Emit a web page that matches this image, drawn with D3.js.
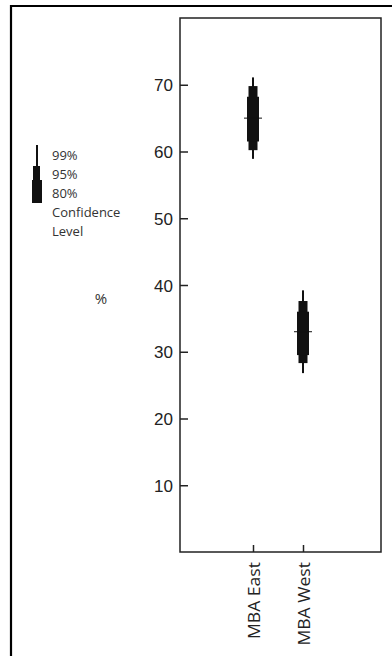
<!DOCTYPE html>
<html>
<head>
<meta charset="utf-8">
<script src="https://cdn.jsdelivr.net/npm/d3@7"></script>
<style>
  html, body { margin: 0; padding: 0; background: #fff; }
  svg { display: block; font-family: "Open Sans", sans-serif; }
</style>
</head>
<body>
<div id="chart"></div>
<script>
// Categories and confidence bands
const categories = ['MBA East', 'MBA West']
const medians = [65, 33]
const ci99 = [[58.9, 71.1], [26.8, 39.2]]
const ci95 = [[60.2, 69.8], [28.3, 37.6]]
const ci80 = [[61.5, 68.2], [29.5, 36.0]]
const y_ticks = [10, 20, 30, 40, 50, 60, 70]
const legend_labels = ['99%', '95%', '80%', 'Confidence', 'Level']

const W = 392, H = 656
const plot = { left: 180, right: 381, top: 18, bottom: 552 }

let svg = d3.select('#chart')
  .append('svg')
  .attr('width', W)
  .attr('height', H)

// Outer frame (only top and left edges show)
svg.append('path')
  .attr('d', `M11,${H} L11,6 L${W},6`)
  .attr('fill', 'none')
  .attr('stroke', '#000')
  .attr('stroke-width', 2.2)

// Scales
let y = d3.scaleLinear()
  .domain([0, 80])
  .range([plot.bottom, plot.top])

let x = d3.scalePoint()
  .domain(categories)
  .range([253, 303])

// Plot box
svg.append('rect')
  .attr('x', plot.left)
  .attr('y', plot.top)
  .attr('width', plot.right - plot.left)
  .attr('height', plot.bottom - plot.top)
  .attr('fill', 'none')
  .attr('stroke', '#222')
  .attr('stroke-width', 1.5)

// Y axis, ticks pointing inward
let y_axis = svg.append('g')
  .attr('transform', `translate(${plot.left},0)`)
  .call(d3.axisRight(y).tickValues(y_ticks).tickSize(8).tickFormat(d => d))
y_axis.select('.domain').remove()
y_axis.selectAll('line').attr('stroke', '#222').attr('stroke-width', 1.5)
y_axis.selectAll('text')
  .attr('x', -7)
  .attr('text-anchor', 'end')
  .attr('dy', '0.36em')
  .attr('fill', '#222')
  .style('font-size', '17px')

// X axis, ticks pointing up
let x_axis = svg.append('g')
  .attr('transform', `translate(0,${plot.bottom})`)
  .call(d3.axisTop(x).tickSize(7).tickFormat(''))
x_axis.select('.domain').remove()
x_axis.selectAll('line').attr('stroke', '#222').attr('stroke-width', 1.5)

// Rotated category labels (a little stretched along the text like the reference)
svg.selectAll('.cat-label')
  .data(categories)
  .enter()
  .append('text')
    .attr('class', 'cat-label')
    .attr('transform', d => `translate(${x(d) + 7},${plot.bottom + 10}) rotate(-90) scale(1.1,1)`)
    .attr('text-anchor', 'end')
    .attr('fill', '#222')
    .style('font-size', '16px')
    .text(d => d)

// Y label
svg.append('text')
  .attr('x', 101)
  .attr('y', 304)
  .attr('text-anchor', 'middle')
  .attr('fill', '#333')
  .style('font-size', '15px')
  .text('%')

// Confidence bands
let bands = [
  { data: ci99, width: 2 },
  { data: ci95, width: 9 },
  { data: ci80, width: 12 }
]
for (let band of bands) {
  svg.selectAll(null)
    .data(categories)
    .enter()
    .append('rect')
      .attr('x', d => x(d) - band.width / 2)
      .attr('y', (d, i) => y(band.data[i][1]))
      .attr('width', band.width)
      .attr('height', (d, i) => y(band.data[i][0]) - y(band.data[i][1]))
      .attr('fill', '#111')
}

// Median ticks
svg.selectAll('.median')
  .data(categories)
  .enter()
  .append('line')
    .attr('class', 'median')
    .attr('x1', d => x(d) - 9)
    .attr('x2', d => x(d) + 9)
    .attr('y1', (d, i) => y(medians[i]))
    .attr('y2', (d, i) => y(medians[i]))
    .attr('stroke', '#111')
    .attr('stroke-width', 1)

// Legend glyph
let lg = svg.append('g')
lg.append('rect').attr('x', 36).attr('y', 145).attr('width', 2).attr('height', 23).attr('fill', '#111')
lg.append('rect').attr('x', 33).attr('y', 166).attr('width', 7).attr('height', 15).attr('fill', '#111')
lg.append('rect').attr('x', 32).attr('y', 180).attr('width', 10).attr('height', 23).attr('fill', '#111')

lg.selectAll('text')
  .data(legend_labels)
  .enter()
  .append('text')
    .attr('x', 52)
    .attr('y', (d, i) => 159.5 + i * 19)
    .attr('fill', '#333')
    .style('font-size', '13px')
    .text(d => d)
</script>
</body>
</html>
